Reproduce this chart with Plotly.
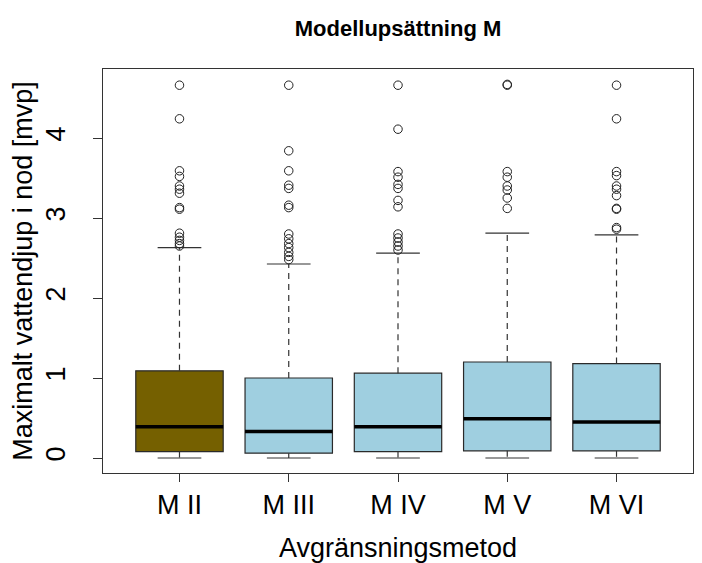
import plotly.graph_objects as go

categories = ["M II", "M III", "M IV", "M V", "M VI"]
q1 = [0.08, 0.06, 0.08, 0.09, 0.09]
median = [0.39, 0.33, 0.39, 0.49, 0.45]
q3 = [1.09, 1.00, 1.06, 1.20, 1.18]
lower_whisker = [0.0, 0.0, 0.0, 0.0, 0.0]
upper_whisker = [2.63, 2.425, 2.56, 2.81, 2.79]
outliers = [
    [4.66, 4.24, 3.59, 3.52, 3.40, 3.36, 3.31, 3.13, 3.11, 2.81, 2.76, 2.72, 2.68, 2.65],
    [4.66, 3.84, 3.59, 3.41, 3.37, 3.16, 3.13, 2.80, 2.74, 2.68, 2.63, 2.57, 2.52, 2.48],
    [4.66, 4.11, 3.58, 3.51, 3.42, 3.37, 3.22, 3.14, 2.80, 2.75, 2.70, 2.65, 2.60],
    [4.67, 4.66, 3.58, 3.51, 3.40, 3.35, 3.25, 3.12],
    [4.66, 4.24, 3.58, 3.53, 3.40, 3.36, 3.28, 3.12, 3.11, 2.88, 2.86],
]
fill_colors = ["#756000", "#9fcfe0", "#9fcfe0", "#9fcfe0", "#9fcfe0"]

title = "Modellupsättning M"
x_title = "Avgränsningsmetod"
y_title = "Maximalt vattendjup i nod [mvp]"
y_ticks = [0, 1, 2, 3, 4]

BOX_W = 0.8
CAP_W = 0.4
pos = list(range(1, len(categories) + 1))

fig = go.Figure()

for i, c in enumerate(categories):
    fig.add_trace(go.Box(
        x=[pos[i]], q1=[q1[i]], median=[median[i]], q3=[q3[i]],
        lowerfence=[q1[i]], upperfence=[q3[i]],
        width=BOX_W, fillcolor=fill_colors[i],
        line=dict(color="#2a2a2a", width=1.2),
        boxpoints=False, showlegend=False, hoverinfo="skip",
    ))

# dashed whiskers
wx, wy = [], []
for i in range(len(categories)):
    wx += [pos[i], pos[i], None, pos[i], pos[i], None]
    wy += [q3[i], upper_whisker[i], None, q1[i], lower_whisker[i], None]
fig.add_trace(go.Scatter(x=wx, y=wy, mode="lines",
                         line=dict(color="#333333", width=1.2, dash="6px,5px"),
                         showlegend=False, hoverinfo="skip"))

# caps
cx, cy = [], []
for i in range(len(categories)):
    for v in (upper_whisker[i], lower_whisker[i]):
        cx += [pos[i] - CAP_W / 2, pos[i] + CAP_W / 2, None]
        cy += [v, v, None]
fig.add_trace(go.Scatter(x=cx, y=cy, mode="lines",
                         line=dict(color="#333333", width=1.2),
                         showlegend=False, hoverinfo="skip"))

# medians
mx, my = [], []
for i in range(len(categories)):
    mx += [pos[i] - BOX_W / 2, pos[i] + BOX_W / 2, None]
    my += [median[i], median[i], None]
fig.add_trace(go.Scatter(x=mx, y=my, mode="lines",
                         line=dict(color="black", width=3.5),
                         showlegend=False, hoverinfo="skip"))

# outliers
ox, oy = [], []
for i in range(len(categories)):
    ox += [pos[i]] * len(outliers[i])
    oy += outliers[i]
fig.add_trace(go.Scatter(x=ox, y=oy, mode="markers",
                         marker=dict(symbol="circle-open", size=8.5,
                                     color="#222222", line=dict(width=1)),
                         showlegend=False, hoverinfo="skip"))

# page body has an 8px default margin; figure is sized/placed to compensate
W, H = 694, 555
font_family = "Liberation Sans, Arial, sans-serif"
fig.update_layout(
    width=W, height=H,
    margin=dict(l=95, r=9, t=61, b=90),
    paper_bgcolor="white", plot_bgcolor="white",
    font=dict(family=font_family, color="black"),
    title=dict(text="<b>" + title + "</b>", x=390 / W,
               xanchor="center", y=1 - 20 / H, yanchor="middle",
               font=dict(size=22)),
    boxmode="overlay",
    xaxis=dict(
        range=[0.3, 5.7], tickvals=pos, ticktext=categories,
        showgrid=False, zeroline=False, showline=True, mirror=True,
        linecolor="#333333", linewidth=1, automargin=False,
        ticks="outside", ticklen=8, tickcolor="#333333",
        tickfont=dict(size=27),
        title=dict(text=x_title, font=dict(size=27), standoff=20),
    ),
    yaxis=dict(
        range=[-0.1875, 4.8625], tickvals=y_ticks,
        ticktext=[str(t) for t in y_ticks], tickangle=-90,
        showgrid=False, zeroline=False, showline=True, mirror=True,
        linecolor="#333333", linewidth=1, automargin=False,
        ticks="outside", ticklen=9, tickcolor="#333333",
        ticklabelstandoff=17,
        tickfont=dict(size=27),
        title=dict(text=y_title, font=dict(size=27), standoff=2),
    ),
)

fig.write_html("out.html")
